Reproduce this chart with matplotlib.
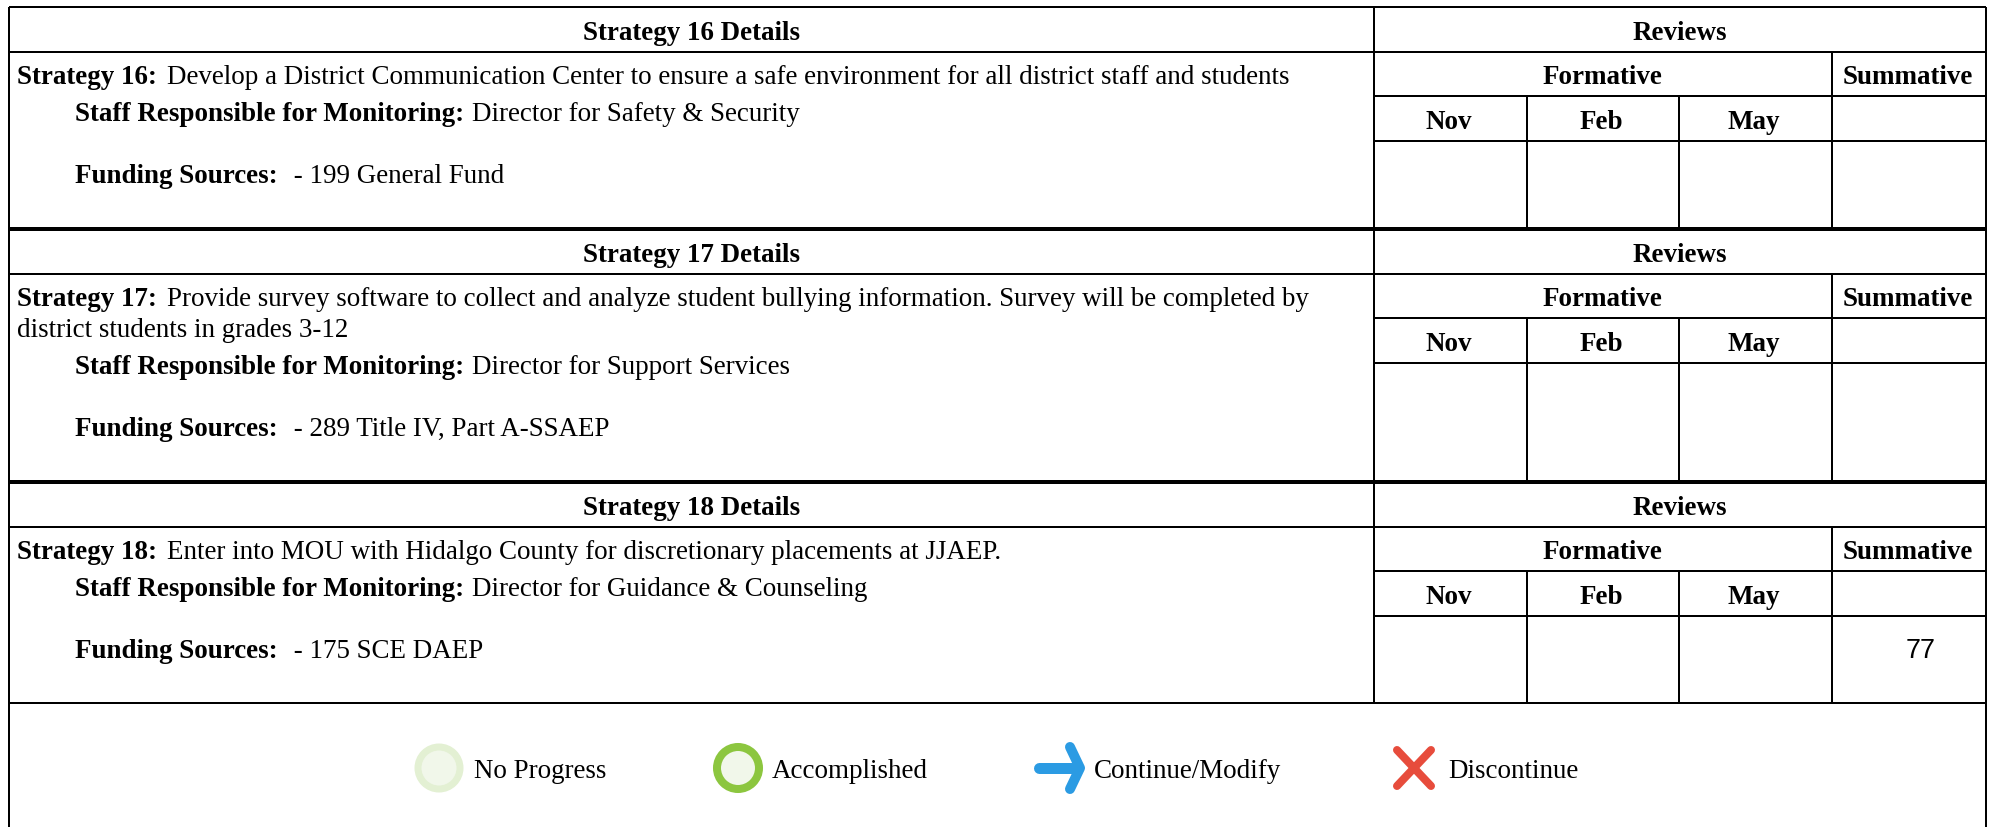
import matplotlib
matplotlib.use('Agg')
import matplotlib.pyplot as plt
from matplotlib.patches import Circle

plt.rcParams['font.family'] = ['Liberation Serif']

# text content
strategyNums = [16, 17, 18]
descriptions = [
    ['Develop a District Communication Center to ensure a safe environment for all district staff and students'],
    ['Provide survey software to collect and analyze student bullying information. Survey will be completed by',
     'district students in grades 3-12'],
    ['Enter into MOU with Hidalgo County for discretionary placements at JJAEP.'],
]
staff = ['Director for Safety & Security', 'Director for Support Services', 'Director for Guidance & Counseling']
funding = ['- 199 General Fund', '- 289 Title IV, Part A-SSAEP', '- 175 SCE DAEP']
months = ['Nov', 'Feb', 'May']
summativeValues = ['', '', '77']
legendLabels = ['No Progress', 'Accomplished', 'Continue/Modify', 'Discontinue']

# layout, pixels of the 1995x828 picture
W, H = 1995, 828
left, right = 9, 1986
colX = [1374, 1527, 1679, 1832]
blockTops = [8, 230, 483]
blockBottoms = [230, 483, 704]
rowH = 44.5
subH = 44.5
textPx = 27
fs = textPx * 0.72

fig = plt.figure(figsize=(W / 100, H / 100), dpi=100)
ax = fig.add_axes([0, 0, 1, 1])
ax.set_xlim(0, W)
ax.set_ylim(H, 0)
ax.axis('off')
lw = 2.0 * 0.72


def hline(y, x0, x1, w=lw, c='black'):
    ax.plot([x0, x1], [y, y], color=c, linewidth=w, solid_capstyle='butt')


def vline(x, y0, y1, w=lw):
    ax.plot([x, x], [y0, y1], color='black', linewidth=w, solid_capstyle='butt')


def label(x, y, s, bold=False, ha='center', family='Liberation Serif'):
    return ax.text(x, y, s, fontsize=fs, fontweight='bold' if bold else 'normal',
                   ha=ha, va='baseline', family=family, color='black')


def mixed(x, y, boldPart, normalPart, gap=8):
    t = label(x, y, boldPart, bold=True, ha='left')
    bb = t.get_window_extent(fig.canvas.get_renderer())
    label(bb.x1 + gap, y, normalPart, ha='left')


for i, num in enumerate(strategyNums):
    top, bottom = blockTops[i], blockBottoms[i]
    r1, r2, r3 = top + rowH, top + rowH + subH, top + rowH + 2 * subH

    # grid of one block
    hline(r1, left, right)
    hline(r2, colX[0], right)
    hline(r3, colX[0], right)
    vline(colX[0], top, bottom)
    vline(colX[3], r1, bottom)
    vline(colX[1], r2, bottom)
    vline(colX[2], r2, bottom)

    # headers
    label((left + colX[0]) / 2, top + 32, 'Strategy %d Details' % num, bold=True)
    label((colX[0] + right) / 2, top + 32, 'Reviews', bold=True)
    label((colX[0] + colX[3]) / 2 - 1, r1 + 32, 'Formative', bold=True)
    label((colX[3] + right) / 2 - 1, r1 + 32, 'Summative', bold=True)
    for j, m in enumerate(months):
        label((colX[j] + colX[j + 1]) / 2 - 2, r2 + 32, m, bold=True)

    # left cell
    y = r1 + 31.5
    mixed(17, y, 'Strategy %d:' % num, descriptions[i][0], gap=10)
    for line in descriptions[i][1:]:
        y += 31
        label(17, y, line, ha='left')
    y += 37
    mixed(75, y, 'Staff Responsible for Monitoring:', staff[i])
    y += 62
    mixed(75, y, 'Funding Sources:', ' ' + funding[i], gap=9)

    if summativeValues[i]:
        label((colX[3] + right) / 2 + 12, r3 + 42, summativeValues[i], family='Liberation Sans')

# outer frame and the heavy lines between blocks
hline(blockTops[0], left, right)
hline(blockTops[1], left, right, w=4 * 0.72)
hline(blockTops[2], left, right, w=4 * 0.72)
hline(blockBottoms[2], left, right)
vline(left, blockTops[0], H)
vline(right, blockTops[0], H)

# legend
legY = 769
ax.add_patch(Circle((439, legY), 21, facecolor='#f1f7ea', edgecolor='#e3f0d3', linewidth=7 * 0.72))
ax.add_patch(Circle((738, legY), 21, facecolor='#f1f7ea', edgecolor='#8cc63f', linewidth=8 * 0.72))
blue = '#2b9be3'
ax.plot([1039, 1078], [legY, legY], color=blue, linewidth=11 * 0.72, solid_capstyle='round')
ax.plot([1070, 1080, 1070], [748, legY, 790], color=blue, linewidth=10 * 0.72,
        solid_capstyle='round', solid_joinstyle='round')
red = '#e74c3c'
ax.plot([1397, 1431], [751, 787], color=red, linewidth=8 * 0.72, solid_capstyle='round')
ax.plot([1397, 1431], [787, 751], color=red, linewidth=8 * 0.72, solid_capstyle='round')
for x, s in zip([474, 772, 1094, 1448], legendLabels):
    label(x, legY + 9, s, ha='left')

fig.savefig('out.png', dpi=100)
